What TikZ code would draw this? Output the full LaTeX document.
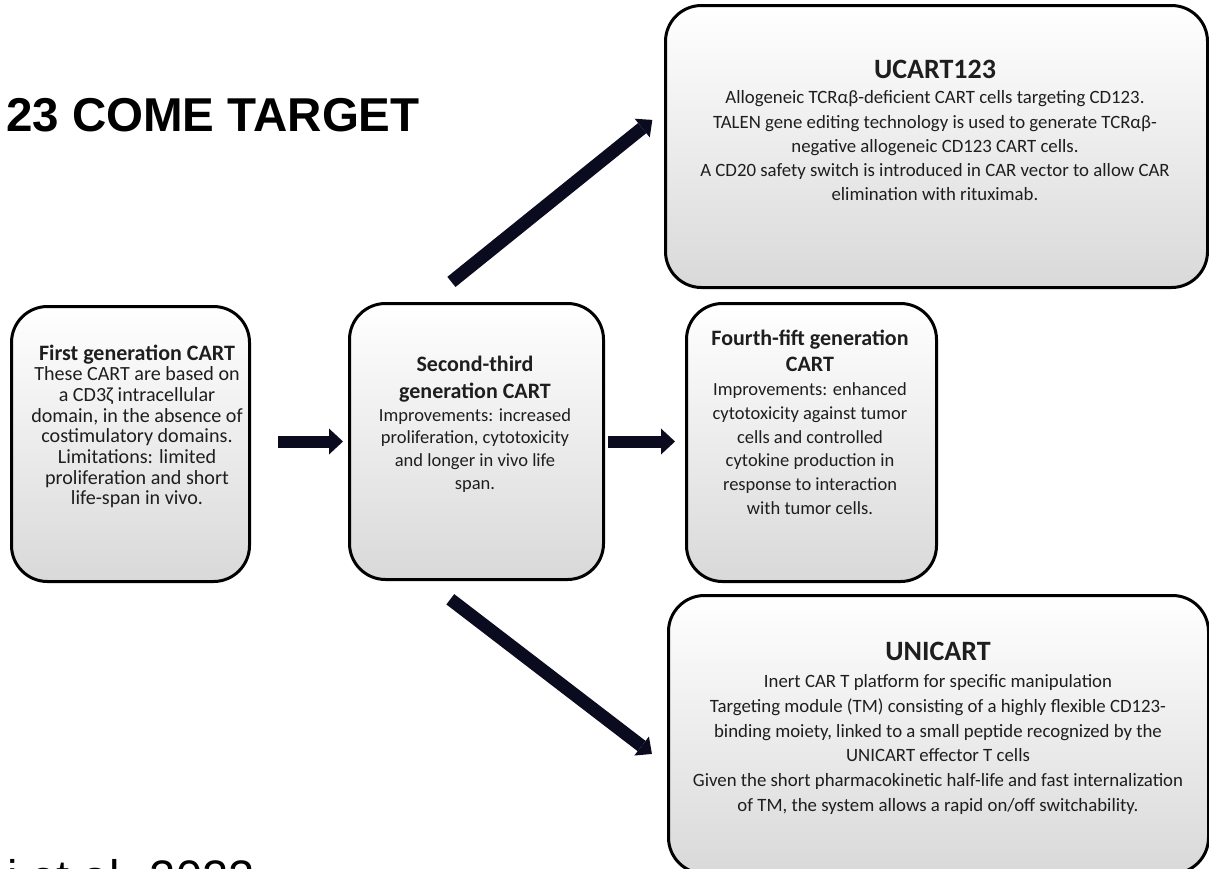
\documentclass[tikz,border=0pt]{standalone}
\usepackage{fontspec}
\setmainfont{Carlito}
\newfontfamily\headfont{Liberation Sans}
\usetikzlibrary{arrows.meta}
\definecolor{arrowink}{HTML}{0B0B1F}
\definecolor{inkgray}{HTML}{1E1E1E}
\tikzset{
  cartbox/.style={draw=black, line width=3pt, rounded corners=36pt,
    top color=white, bottom color=black!15, inner sep=0pt, anchor=north west},
  flatarrow/.style={draw=arrowink, line width=12pt,
    -{Triangle[width=26pt,length=14pt,line width=0pt]}},
  slantarrow/.style={draw=arrowink, line width=13pt,
    -{Triangle[width=24pt,length=13pt,line width=0pt]}},
  cardtitle/.style={font=\bfseries\fontsize{#1}{#1}\selectfont, text=inkgray,
    inner sep=0pt, anchor=base},
  cardhead/.style n args={2}{font=\bfseries\fontsize{#1}{#2}\selectfont,
    text=inkgray, inner sep=0pt, anchor=north, align=center},
  cardbody/.style n args={2}{font=\fontsize{#1}{#2}\selectfont,
    text=inkgray, inner sep=0pt, anchor=north, align=center},
}
\begin{document}
\begin{tikzpicture}[x=1pt,y=-1pt]
\useasboundingbox (0,0) rectangle (1209,868);
\clip (0,0) rectangle (1209,868);

% slide heading and citation, both cut by the frame
\node[anchor=base west, inner sep=0pt, font=\headfont\bfseries\fontsize{47.5}{47.5}\selectfont]
  (heading) at (6,131) {23 COME TARGET};
\node[anchor=base west, inner sep=0pt, font=\headfont\fontsize{47}{47}\selectfont]
  (citation) at (7,893) {i et al. 2022};

% the five cards
\node[cartbox, minimum width=238pt, minimum height=275pt] (first)   at (10,305)  {};
\node[cartbox, minimum width=254pt, minimum height=276pt] (second)  at (348,302) {};
\node[cartbox, minimum width=250pt, minimum height=278pt] (fourth)  at (685,302) {};
\node[cartbox, minimum width=542pt, minimum height=282pt] (ucart)   at (664,4)   {};
\node[cartbox, minimum width=540pt, minimum height=278pt] (unicart) at (667,594) {};

% first generation
\node[cardtitle=22] (first-title) at (137,360) {First generation CART};
\node[cardbody={20.1}{20.7}] (first-text) at (137,365) {\rule{0pt}{15.5pt}These CART are based on\\
  a CD3ζ intracellular\\ domain, in the absence of\\ costimulatory domains.\\
  Limitations: limited\\ proliferation and short\\ life-span in vivo.};

% second-third generation
\node[cardhead={22}{27}] (second-title) at (475,355) {\rule{0pt}{16pt}Second-third\\ generation CART};
\node[cardbody={18.5}{22.6}] (second-text) at (475,407) {\rule{0pt}{14pt}Improvements:  increased\\
  proliferation, cytotoxicity\\ and longer in vivo life\\ span.};

% fourth-fifth generation
\node[cardhead={22}{26}] (fourth-title) at (810,329) {\rule{0pt}{16pt}Fourth-fift generation\\ CART};
\node[cardbody={18.5}{23.7}] (fourth-text) at (810,381.5) {\rule{0pt}{14pt}Improvements:  enhanced\\
  cytotoxicity against tumor\\ cells and controlled\\ cytokine production in\\
  response to interaction\\ with tumor cells.};

% UCART123
\node[cardtitle=28] (ucart-title) at (935,78) {UCART123};
\node[cardbody={18.8}{24.3}] (ucart-text) at (935,89.5) {\rule{0pt}{14pt}Allogeneic TCRαβ-deficient CART cells targeting CD123.\\
  TALEN gene editing technology is used to generate TCRαβ-\\
  negative allogeneic CD123 CART cells.\\
  A CD20 safety switch is introduced in CAR vector to allow CAR\\
  elimination with rituximab.};

% UNICART
\node[cardtitle=28] (unicart-title) at (938,660) {UNICART};
\node[cardbody={18.8}{24.7}] (unicart-text) at (938,673.5) {\rule{0pt}{14pt}Inert CAR T platform for specific manipulation\\
  Targeting module (TM) consisting of a highly flexible CD123-\\
  binding moiety, linked to a small peptide recognized by the\\
  UNICART effector T cells\\
  Given the short pharmacokinetic half-life and fast internalization\\
  of TM, the system allows a rapid on/off switchability.};

% connectors
\draw[flatarrow, shorten <=27pt, shorten >=5pt] (first.east |- second.west) -- (second.west);
\draw[flatarrow, shorten <=3pt, shorten >=10pt] (second.east) -- (second.east -| fourth.west);
\draw[slantarrow, shorten <=32pt, shorten >=15pt] ([xshift=-50pt]second.north) -- ([yshift=36pt]ucart.west);
\draw[slantarrow, shorten <=30pt, shorten >=19pt] ([xshift=-50pt]second.south) -- ([yshift=-31pt]unicart.west);
\end{tikzpicture}
\end{document}
